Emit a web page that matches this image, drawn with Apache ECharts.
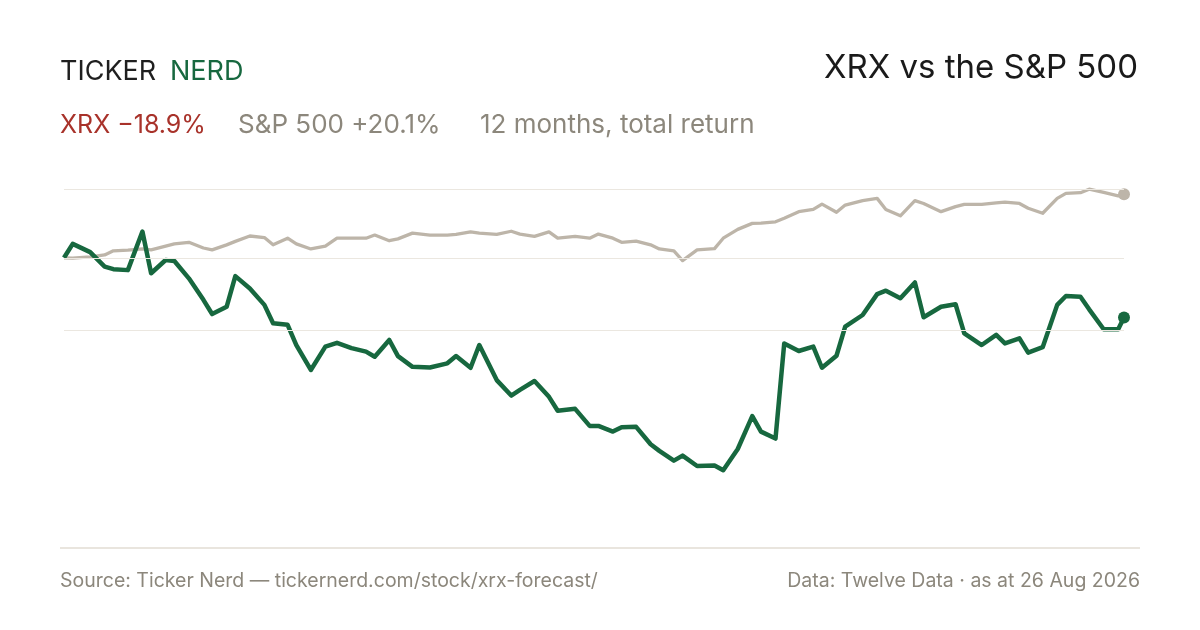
<!DOCTYPE html>
<html>
<head>
<meta charset="utf-8">
<title>XRX vs the S&amp;P 500</title>
<script src="https://cdn.jsdelivr.net/npm/echarts@6/dist/echarts.min.js"></script>
<style>
  html, body { margin: 0; padding: 0; background: #fff; }
  #chart { width: 1200px; height: 630px; }
</style>
</head>
<body>
<div id="chart"></div>
<script>
// every third trading day from 26 Aug 2025, plus the last day
var dates = [
  '2025-08-26','2025-08-29','2025-09-04','2025-09-09','2025-09-12','2025-09-17','2025-09-22','2025-09-25',
  '2025-09-30','2025-10-03','2025-10-08','2025-10-13','2025-10-16','2025-10-21','2025-10-24','2025-10-29',
  '2025-11-03','2025-11-06','2025-11-11','2025-11-14','2025-11-19','2025-11-24','2025-11-28','2025-12-03',
  '2025-12-08','2025-12-11','2025-12-16','2025-12-19','2025-12-24','2025-12-30','2026-01-05','2026-01-08',
  '2026-01-13','2026-01-16','2026-01-22','2026-01-27','2026-01-30','2026-02-04','2026-02-09','2026-02-12',
  '2026-02-18','2026-02-23','2026-02-26','2026-03-03','2026-03-06','2026-03-11','2026-03-16','2026-03-19',
  '2026-03-24','2026-03-27','2026-04-01','2026-04-07','2026-04-10','2026-04-15','2026-04-20','2026-04-23',
  '2026-04-28','2026-05-01','2026-05-06','2026-05-11','2026-05-14','2026-05-19','2026-05-22','2026-05-28',
  '2026-06-02','2026-06-05','2026-06-10','2026-06-15','2026-06-18','2026-06-24','2026-06-29','2026-07-02',
  '2026-07-08','2026-07-13','2026-07-16','2026-07-21','2026-07-24','2026-07-29','2026-08-03','2026-08-06',
  '2026-08-11','2026-08-14','2026-08-19','2026-08-24','2026-08-26'
];

// total return since start, %
var xrx = [
  0, 4.4, 1.8, -2.8, -3.6, -3.9, 8.3, -4.9, -0.7, -1.0, -6.5, -13.3, -17.8, -15.5, -5.8, -9.7,
  -14.9, -20.7, -21.2, -27.6, -35.5, -28.1, -26.9, -28.6, -29.7, -31.3, -26.0, -31.1, -34.5, -34.7, -33.4, -31.1,
  -34.8, -27.6, -38.7, -43.6, -41.8, -39.0, -44.0, -48.4, -47.8, -53.2, -53.2, -55.0, -53.6, -53.5, -59.0, -61.1,
  -64.2, -62.6, -65.9, -65.7, -67.2, -60.5, -50.1, -55.0, -57.2, -27.1, -29.5, -28.1, -34.8, -31.0, -21.8, -18.1,
  -11.5, -10.4, -12.8, -7.8, -18.8, -15.5, -14.7, -23.9, -27.6, -24.4, -27.1, -25.5, -30.0, -28.3, -14.9, -12.1,
  -12.3, -16.3, -22.6, -22.6, -18.9
];

var spx = [
  0, -0.1, 0.3, 0.9, 2.2, 2.4, 2.8, 2.5, 3.7, 4.4, 4.9, 3.1, 2.5, 4.1, 5.2, 6.9,
  6.4, 4.1, 6.2, 4.4, 2.8, 3.7, 6.2, 6.2, 6.2, 7.2, 5.4, 6.0, 7.8, 7.2, 7.2, 7.4,
  8.2, 7.8, 7.4, 8.4, 7.5, 6.8, 8.2, 6.2, 6.8, 6.2, 7.5, 6.2, 4.9, 5.3, 4.1, 2.8,
  2.2, -0.9, 2.5, 2.9, 6.2, 9.0, 10.9, 11.0, 11.4, 12.5, 14.6, 15.3, 17.0, 14.4, 16.7, 18.1,
  18.8, 15.3, 13.3, 18.1, 17.2, 14.6, 16.2, 16.9, 16.9, 17.4, 17.6, 17.2, 15.7, 14.1, 18.8, 20.4,
  20.6, 21.7, 20.7, 19.6, 20.1
];

var gridValues = [21.6, 0, -22.8];

var green = '#17683f';
var beige = '#bdb5a9';
var grey = '#8c877c';
var font = 'Inter, "Liberation Sans", sans-serif';

function pairs(vals) {
  return vals.map(function(v, i) { return [dates[i], v]; });
}
var last = dates.length - 1;

var chart = echarts.init(document.getElementById('chart'));

var option = {
  animation: false,
  backgroundColor: '#fff',
  grid: { left: 64, right: 76, top: 163, height: 347.6 },
  xAxis: {
    type: 'time',
    min: dates[0],
    max: dates[last],
    axisLine: { show: false },
    axisTick: { show: false },
    axisLabel: { show: false },
    splitLine: { show: false }
  },
  yAxis: {
    type: 'value',
    min: -80,
    max: 30,
    axisLine: { show: false },
    axisTick: { show: false },
    axisLabel: { show: false },
    splitLine: { show: false }
  },
  series: [
    {
      name: 'grid',
      type: 'line',
      data: [],
      z: 0,
      silent: true,
      markLine: {
        silent: true,
        symbol: 'none',
        label: { show: false },
        lineStyle: { color: '#ebe7e0', width: 1.2, type: 'solid' },
        data: gridValues.map(function(v) { return { yAxis: v }; })
      }
    },
    {
      name: 'S&P 500',
      type: 'line',
      data: pairs(spx),
      showSymbol: false,
      z: 2,
      lineStyle: { color: beige, width: 3.3, join: 'round' }
    },
    {
      name: 'XRX',
      type: 'line',
      data: pairs(xrx),
      showSymbol: false,
      z: 3,
      lineStyle: { color: green, width: 4.5, join: 'round' }
    },
    {
      type: 'scatter',
      data: [[dates[last], spx[last]]],
      symbolSize: 12,
      itemStyle: { color: beige, opacity: 1 },
      z: 4
    },
    {
      type: 'scatter',
      data: [[dates[last], xrx[last]]],
      symbolSize: 12,
      itemStyle: { color: green, opacity: 1 },
      z: 5
    }
  ],
  graphic: [
    { type: 'text', x: 60, y: 72, style: { text: 'TICKER', font: '400 27px ' + font, fill: '#1f1f1f', verticalAlign: 'middle' } },
    { type: 'text', x: 170, y: 72, style: { text: 'NERD', font: '400 27px ' + font, fill: green, verticalAlign: 'middle' } },
    { type: 'text', x: 1138, y: 68.5, style: { text: 'XRX vs the S&P 500', font: '400 33px ' + font, fill: '#1a1a1a', align: 'right', verticalAlign: 'middle' } },
    { type: 'text', x: 60, y: 125, style: { text: 'XRX \u221218.9%', font: '400 25px ' + font, fill: '#a8322a', verticalAlign: 'middle' } },
    { type: 'text', x: 238, y: 125, style: { text: 'S&P 500 +20.1%', font: '400 26px ' + font, fill: grey, verticalAlign: 'middle' } },
    { type: 'text', x: 480, y: 125, style: { text: '12 months, total return', font: '400 26px ' + font, fill: grey, verticalAlign: 'middle' } },
    { type: 'line', shape: { x1: 60, y1: 548, x2: 1140, y2: 548 }, style: { stroke: '#e2ddd3', lineWidth: 1.5 } },
    { type: 'text', x: 60, y: 581.5, style: { text: 'Source: Ticker Nerd \u2014 tickernerd.com/stock/xrx-forecast/', font: '400 19.5px ' + font, fill: grey, verticalAlign: 'middle' } },
    { type: 'text', x: 1140, y: 581.5, style: { text: 'Data: Twelve Data \u00b7 as at 26 Aug 2026', font: '400 19.5px ' + font, fill: grey, align: 'right', verticalAlign: 'middle' } }
  ]
};

chart.setOption(option);
</script>
</body>
</html>
